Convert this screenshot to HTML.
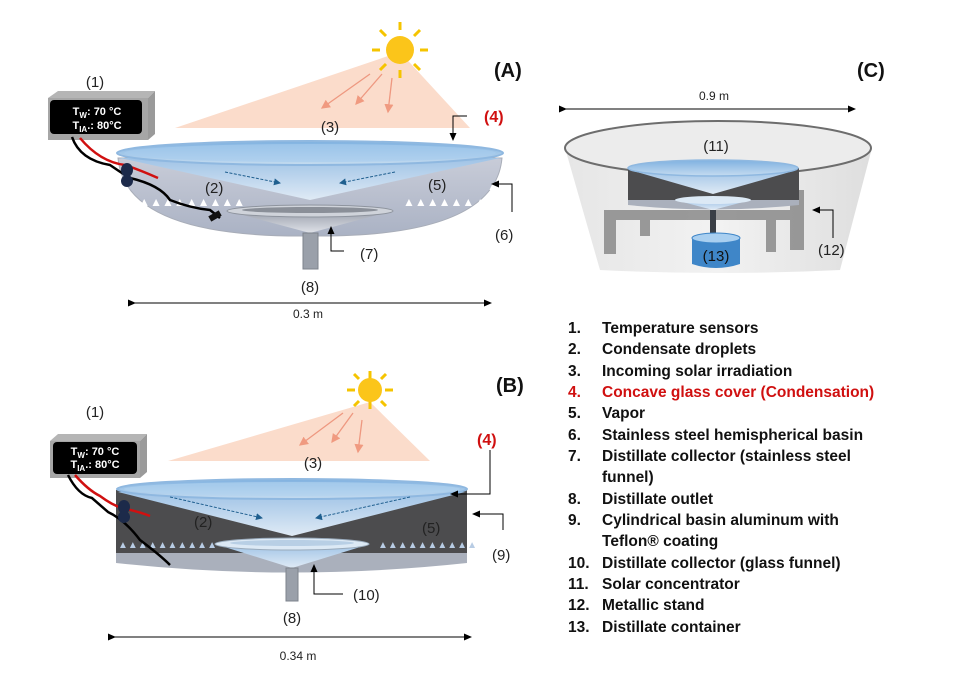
<!DOCTYPE html>
<html><head><meta charset="utf-8"><style>
html,body{margin:0;padding:0;background:#fff}
svg{display:block}
text{font-family:"Liberation Sans",sans-serif}
.lg{font-size:15.5px;font-weight:bold;fill:#111}
.lb{font-size:15px;fill:#222}
</style></head><body>
<svg width="962" height="687" viewBox="0 0 962 687" xmlns="http://www.w3.org/2000/svg">
<defs>
<marker id="ah" markerWidth="8" markerHeight="8" refX="7" refY="4" orient="auto"><path d="M0,0.5 L8,4 L0,7.5z" fill="#000"/></marker>
<marker id="ahb" markerWidth="7" markerHeight="7" refX="6" refY="3.5" orient="auto"><path d="M0,0 L7,3.5 L0,7z" fill="#1f5f8f"/></marker>
<marker id="ahr" markerWidth="7" markerHeight="7" refX="6" refY="3.5" orient="auto"><path d="M0,0 L7,3.5 L0,7z" fill="#f09a80"/></marker>
<linearGradient id="bowl" x1="0" y1="0" x2="0" y2="1"><stop offset="0" stop-color="#c8ccd8"/><stop offset="1" stop-color="#aab2c4"/></linearGradient>
<linearGradient id="glass" x1="0" y1="0" x2="0" y2="1"><stop offset="0" stop-color="#7fb1e0"/><stop offset="1" stop-color="#c5dcf0"/></linearGradient>
<linearGradient id="cone" x1="0" y1="0" x2="0" y2="1"><stop offset="0" stop-color="#9fc3e6"/><stop offset="1" stop-color="#dfeaf5"/></linearGradient>
<linearGradient id="fun" x1="0" y1="0" x2="0" y2="1"><stop offset="0" stop-color="#9aa0ac"/><stop offset="1" stop-color="#dfe2e8"/></linearGradient>
<linearGradient id="conc" x1="0" y1="0" x2="1" y2="0"><stop offset="0" stop-color="#e6e6e6"/><stop offset=".5" stop-color="#f2f2f2"/><stop offset="1" stop-color="#dedede"/></linearGradient>
</defs>

<!-- ===== A ===== -->
<polygon points="175,128 470,128 400,52" fill="#fbdccb"/>
<g stroke="#f5c400" stroke-width="3">
<line x1="400" y1="22" x2="400" y2="30"/><line x1="400" y1="70" x2="400" y2="78"/>
<line x1="372" y1="50" x2="380" y2="50"/><line x1="420" y1="50" x2="428" y2="50"/>
<line x1="380" y1="30" x2="386" y2="36"/><line x1="414" y1="64" x2="420" y2="70"/>
<line x1="420" y1="30" x2="414" y2="36"/><line x1="386" y1="64" x2="380" y2="70"/>
</g>
<circle cx="400" cy="50" r="14" fill="#fbc51a"/>
<g stroke="#ee9880" stroke-width="1.3" marker-end="url(#ahr)">
<line x1="370" y1="74" x2="322" y2="108"/><line x1="382" y1="74" x2="356" y2="104"/><line x1="392" y1="78" x2="388" y2="112"/>
</g>
<text x="330" y="132" class="lb" text-anchor="middle">(3)</text>
<text x="494" y="77" font-size="20" font-weight="bold" fill="#111">(A)</text>

<path d="M118,158 Q125,238 310,236 Q495,238 502,158 Z" fill="url(#bowl)" stroke="#a8adb8"/>
<polygon points="120,158 310,200 500,158" fill="url(#cone)"/>
<ellipse cx="310" cy="153" rx="193" ry="12" fill="url(#glass)" stroke="#8fb8e0" stroke-width="2"/>
<ellipse cx="310" cy="153" rx="186" ry="9" fill="#a9cdee" opacity=".6"/>
<g stroke="#1f5f8f" stroke-width="1" stroke-dasharray="3,1.5" marker-end="url(#ahb)">
<line x1="225" y1="172" x2="280" y2="183"/><line x1="395" y1="172" x2="340" y2="183"/>
</g>
<path d="M228,211 L310,233 L392,211 Z" fill="url(#fun)"/>
<ellipse cx="310" cy="211" rx="83" ry="6" fill="#cfd3da" stroke="#8e949e"/>
<ellipse cx="310" cy="210" rx="68" ry="3" fill="#8a8f98"/>
<rect x="303" y="233" width="15" height="36" fill="#9aa0aa" stroke="#7d838c"/>
<g fill="#fff">
<text x="123" y="206" font-size="12">▲ ▲▲▲▲▲▲▲▲▲</text>
<text x="403" y="206" font-size="12">▲▲▲▲▲▲▲▲</text>
<text x="487" y="190" font-size="12">▲</text>
</g>
<text x="205" y="193" class="lb" fill="#222">(2)</text>
<text x="428" y="190" class="lb">(5)</text>
<polygon points="48,98 148,98 155,91 58,91" fill="#b5b5b5"/>
<polygon points="148,98 155,91 155,134 148,140" fill="#9a9a9a"/>
<rect x="48" y="98" width="100" height="42" fill="#a6a6a6"/>
<rect x="50" y="100" width="92" height="34" rx="4" fill="#000"/>
<text x="97" y="115" font-size="11" font-weight="bold" fill="#fff" text-anchor="middle">T<tspan font-size="8" dy="3">W</tspan><tspan dy="-3">: 70 °C</tspan></text>
<text x="97" y="129" font-size="11" font-weight="bold" fill="#fff" text-anchor="middle">T<tspan font-size="8" dy="3">IA</tspan><tspan dy="-3">.: 80°C</tspan></text>
<text x="95" y="87" class="lb" text-anchor="middle">(1)</text>
<path d="M72,137 Q80,160 110,165 Q120,172 130,178 Q160,185 170,200 Q190,208 210,210 L220,218" stroke="#000" stroke-width="2.5" fill="none"/>
<path d="M80,138 Q100,162 125,165 Q140,170 158,178" stroke="#d01010" stroke-width="2.5" fill="none"/>
<ellipse cx="127" cy="170" rx="6" ry="7" fill="#1c2a4a"/><ellipse cx="127" cy="181" rx="6" ry="6" fill="#1c2a4a"/>
<rect x="209" y="213" width="12" height="6" fill="#111" transform="rotate(-30 215 216)"/>
<polyline points="467,116 453,116 453,140" fill="none" stroke="#000" marker-end="url(#ah)"/>
<text x="484" y="122" font-size="16" font-weight="bold" fill="#d01010">(4)</text>
<polyline points="512,212 512,184 492,184" fill="none" stroke="#000" marker-end="url(#ah)"/>
<text x="495" y="240" class="lb">(6)</text>
<polyline points="344,251 331,251 331,227" fill="none" stroke="#000" marker-end="url(#ah)"/>
<text x="360" y="259" class="lb">(7)</text>
<text x="310" y="292" class="lb" text-anchor="middle">(8)</text>
<line x1="135" y1="303" x2="491" y2="303" stroke="#000" marker-end="url(#ah)" marker-start="url(#ah)"/>
<text x="308" y="318" font-size="12" text-anchor="middle" fill="#222">0.3 m</text>

<!-- ===== B ===== -->
<polygon points="168,461 430,461 370,402" fill="#fbdccb"/>
<g stroke="#f5c400" stroke-width="3">
<line x1="370" y1="371" x2="370" y2="379"/><line x1="370" y1="401" x2="370" y2="409"/>
<line x1="347" y1="390" x2="355" y2="390"/><line x1="385" y1="390" x2="393" y2="390"/>
<line x1="354" y1="374" x2="359" y2="379"/><line x1="381" y1="401" x2="386" y2="406"/>
<line x1="386" y1="374" x2="381" y2="379"/><line x1="359" y1="401" x2="354" y2="406"/>
</g>
<circle cx="370" cy="390" r="12" fill="#fbc51a"/>
<g stroke="#ee9880" stroke-width="1.3" marker-end="url(#ahr)">
<line x1="343" y1="413" x2="300" y2="445"/><line x1="353" y1="413" x2="332" y2="442"/><line x1="362" y1="420" x2="358" y2="452"/>
</g>
<text x="313" y="468" class="lb" text-anchor="middle">(3)</text>
<text x="496" y="392" font-size="20" font-weight="bold" fill="#111">(B)</text>

<path d="M116,490 L116,563 Q290,582 467,563 L467,490 Z" fill="#aab0bc"/>
<rect x="116" y="490" width="351" height="63" fill="#4c4c4e"/>
<polygon points="118,492 292,536 465,492" fill="url(#cone)"/>
<ellipse cx="292" cy="489" rx="175" ry="10" fill="url(#glass)" stroke="#8fb8e0" stroke-width="2"/>
<ellipse cx="292" cy="489" rx="168" ry="7" fill="#b3d3f0" opacity=".6"/>
<g stroke="#1f5f8f" stroke-width="1" stroke-dasharray="3,1.5" marker-end="url(#ahb)">
<line x1="170" y1="497" x2="262" y2="518"/><line x1="410" y1="497" x2="316" y2="518"/>
</g>
<path d="M215,544 L292,568 L370,544 Z" fill="url(#cone)"/>
<ellipse cx="292" cy="544" rx="77" ry="6" fill="#dce9f5" stroke="#9ab"/>
<ellipse cx="292" cy="543" rx="62" ry="3" fill="#b8cfe5"/>
<rect x="286" y="568" width="12" height="33" fill="#9aa0aa" stroke="#7d838c"/>
<g fill="#b8cce4">
<text x="118" y="548" font-size="10">▲▲▲▲▲▲▲▲▲▲</text>
<text x="378" y="548" font-size="10">▲▲▲▲▲▲▲▲▲▲</text>
</g>
<text x="194" y="527" class="lb" fill="#111">(2)</text>
<text x="422" y="533" class="lb" fill="#111">(5)</text>
<polygon points="50,441 140,441 147,434 58,434" fill="#b5b5b5"/>
<polygon points="140,441 147,434 147,472 140,478" fill="#9a9a9a"/>
<rect x="50" y="441" width="90" height="37" fill="#a6a6a6"/>
<rect x="53" y="442" width="84" height="32" rx="4" fill="#000"/>
<text x="95" y="455" font-size="11" font-weight="bold" fill="#fff" text-anchor="middle">T<tspan font-size="8" dy="3">W</tspan><tspan dy="-3">: 70 °C</tspan></text>
<text x="95" y="468" font-size="11" font-weight="bold" fill="#fff" text-anchor="middle">T<tspan font-size="8" dy="3">IA</tspan><tspan dy="-3">.: 80°C</tspan></text>
<text x="95" y="417" class="lb" text-anchor="middle">(1)</text>
<path d="M68,475 Q78,495 92,498 Q100,505 108,512 Q125,520 140,540 Q160,555 170,565" stroke="#000" stroke-width="2.5" fill="none"/>
<path d="M75,475 Q88,490 100,496 Q112,505 122,508 Q140,512 150,516" stroke="#d01010" stroke-width="2.5" fill="none"/>
<ellipse cx="124" cy="507" rx="6" ry="7" fill="#1c2a4a"/><ellipse cx="124" cy="517" rx="6" ry="6" fill="#1c2a4a"/>
<polyline points="490,450 490,494 451,494" fill="none" stroke="#000" marker-end="url(#ah)"/>
<text x="477" y="445" font-size="16" font-weight="bold" fill="#d01010">(4)</text>
<polyline points="503,530 503,514 473,514" fill="none" stroke="#000" marker-end="url(#ah)"/>
<text x="492" y="560" class="lb">(9)</text>
<polyline points="343,594 314,594 314,565" fill="none" stroke="#000" marker-end="url(#ah)"/>
<text x="353" y="600" class="lb">(10)</text>
<text x="292" y="623" class="lb" text-anchor="middle">(8)</text>
<line x1="115" y1="637" x2="471" y2="637" stroke="#000" marker-end="url(#ah)" marker-start="url(#ah)"/>
<text x="298" y="660" font-size="12" text-anchor="middle" fill="#222">0.34 m</text>

<!-- ===== C ===== -->
<text x="857" y="77" font-size="20" font-weight="bold" fill="#111">(C)</text>
<line x1="566" y1="109" x2="855" y2="109" stroke="#000" marker-end="url(#ah)" marker-start="url(#ah)"/>
<text x="714" y="100" font-size="12" text-anchor="middle" fill="#222">0.9 m</text>
<path d="M565,148 L600,270 Q720,276 840,270 L872,148 Z" fill="url(#conc)"/>
<ellipse cx="718" cy="148" rx="153" ry="27" fill="#ececec" stroke="#6d6d6d" stroke-width="2"/>
<g fill="#8a8a8a" opacity=".85">
<rect x="604" y="210" width="196" height="10"/>
<rect x="604" y="210" width="12" height="44"/><rect x="640" y="214" width="10" height="22"/>
<rect x="790" y="190" width="14" height="60"/><rect x="766" y="214" width="10" height="38"/>
</g>
<path d="M628,168 L628,205 Q713,214 799,205 L799,168 Z" fill="#aab0bc"/>
<rect x="628" y="168" width="171" height="32" fill="#4c4c4e"/>
<polygon points="630,170 713,194 797,170" fill="url(#cone)"/>
<ellipse cx="713" cy="168" rx="85" ry="8" fill="url(#glass)" stroke="#8fb8e0" stroke-width="1.5"/>
<path d="M675,200 L713,210 L751,200 Z" fill="url(#cone)"/>
<ellipse cx="713" cy="200" rx="38" ry="4" fill="#dce9f5"/>
<rect x="710" y="210" width="6" height="24" fill="#3a3f46"/>
<path d="M692,238 L692,264 Q716,272 740,264 L740,238 Z" fill="#3f86c8"/>
<ellipse cx="716" cy="238" rx="24" ry="5" fill="#a9cff0" stroke="#3f86c8"/>
<text x="716" y="261" font-size="15" text-anchor="middle" fill="#111">(13)</text>
<text x="716" y="151" class="lb" text-anchor="middle">(11)</text>
<polyline points="833,238 833,210 813,210" fill="none" stroke="#000" marker-end="url(#ah)"/>
<text x="818" y="255" class="lb">(12)</text>

<g class="lg">
<text x="568" y="333">1.</text><text x="602" y="333">Temperature sensors</text>
<text x="568" y="354">2.</text><text x="602" y="354">Condensate droplets</text>
<text x="568" y="376">3.</text><text x="602" y="376">Incoming solar irradiation</text>
<text x="568" y="397" fill="#d01010">4.</text><text x="602" y="397" fill="#d01010">Concave glass cover (Condensation)</text>
<text x="568" y="418">5.</text><text x="602" y="418">Vapor</text>
<text x="568" y="440">6.</text><text x="602" y="440">Stainless steel hemispherical basin</text>
<text x="568" y="461">7.</text><text x="602" y="461">Distillate collector (stainless steel</text>
<text x="602" y="482">funnel)</text>
<text x="568" y="504">8.</text><text x="602" y="504">Distillate outlet</text>
<text x="568" y="525">9.</text><text x="602" y="525">Cylindrical basin aluminum with</text>
<text x="602" y="546">Teflon® coating</text>
<text x="568" y="568">10.</text><text x="602" y="568">Distillate collector (glass funnel)</text>
<text x="568" y="589">11.</text><text x="602" y="589">Solar concentrator</text>
<text x="568" y="610">12.</text><text x="602" y="610">Metallic stand</text>
<text x="568" y="632">13.</text><text x="602" y="632">Distillate container</text>
</g>
</svg>
</body></html>
